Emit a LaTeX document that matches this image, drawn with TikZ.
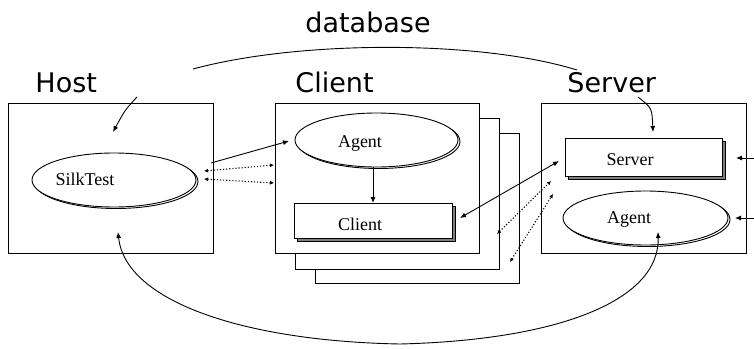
\documentclass[tikz,border=0pt]{standalone}
\usepackage{fontspec}
\setmainfont{Liberation Serif}
\newfontfamily\titlefont{DejaVu Sans}
\usetikzlibrary{arrows.meta,shadows,shapes.geometric}
\begin{document}
\begin{tikzpicture}[x=1pt,y=-1pt,line width=0.9pt,
  bigbox/.style={draw,fill=white,rectangle,inner sep=0pt,line width=1pt},
  inbox/.style={draw,fill=white,rectangle,inner sep=0pt,line width=1pt,
     general shadow={draw=black,fill=gray,line width=0.8pt,shadow xshift=3pt,shadow yshift=-3pt}},
  oval/.style={draw,fill=white,ellipse,inner sep=0pt,line width=0.9pt,
     copy shadow={shadow xshift=2pt,shadow yshift=-1.5pt}},
  titletext/.style={font=\titlefont\fontsize{27}{30}\selectfont,inner sep=0pt,anchor=base west},
  lbl/.style={font=\fontsize{18}{20}\selectfont,inner sep=0pt},
  tip/.style={-{Latex[length=6pt,width=5pt]}},
  tips/.style={{Latex[length=6pt,width=5pt]}-{Latex[length=6pt,width=5pt]}},
  dtips/.style={{Latex[length=4pt,width=4pt]}-{Latex[length=4pt,width=4pt]},dotted,line width=1.1pt}
]
\useasboundingbox (0,0) rectangle (754,348);

% titles
\node[titletext] (tdb) at (305,32) {database};
\node[titletext] (thost) at (35,92) {Host};
\node[titletext] (tclient) at (295,92) {Client};
\node[titletext] (tserver) at (567,92) {Server};

% boxes
\node[bigbox,minimum width=205pt,minimum height=150pt] (host) at (110.5,178) {};
\node[bigbox,minimum width=204pt,minimum height=150pt] (client3) at (417,208) {};
\node[bigbox,minimum width=204pt,minimum height=151pt] (client2) at (397,193.5) {};
\node[bigbox,minimum width=204pt,minimum height=150pt] (client1) at (377,178) {};
\node[bigbox,minimum width=205pt,minimum height=150pt] (server) at (643.5,178) {};

% inner elements
\node[oval,minimum width=164pt,minimum height=54pt] (silk) at (114,180) {};
\node[lbl] (silkl) at (85,179) {SilkTest};
\node[oval,minimum width=163pt,minimum height=54pt] (cagent) at (376.5,140) {};
\node[lbl] (cagentl) at (360,143) {Agent};
\node[inbox,minimum width=158pt,minimum height=35pt] (crect) at (373,220.5) {};
\node[lbl] (crectl) at (360,224) {Client};
\node[inbox,minimum width=157pt,minimum height=38pt] (srect) at (643.5,157) {};
\node[lbl] (srectl) at (630,160) {Server};
\node[oval,minimum width=165pt,minimum height=54pt] (sagent) at (645.5,218) {};
\node[lbl] (sagentl) at (629,219) {Agent};

% coordinates for connector ends
\coordinate (dbA) at (193,69);
\coordinate (dbB) at (577,70);
\coordinate (hA) at (137,97);
\coordinate (hB) at (113,132);
\coordinate (sA) at (638,97);
\coordinate (sB) at (653,132);
\coordinate (st1) at (211,163);
\coordinate (ca1) at (289,141);
\coordinate (st2) at (204,171);
\coordinate (cl2) at (274,165);
\coordinate (st3) at (204,179);
\coordinate (cl3) at (274,183);
\coordinate (caB) at (373,167);
\coordinate (crT) at (373,203);
\coordinate (crE) at (460,218);
\coordinate (srW) at (559,161);
\coordinate (c2a) at (497,234);
\coordinate (s2a) at (551,181);
\coordinate (c3a) at (510,262);
\coordinate (s3a) at (553,194);
\coordinate (rA) at (754,158);
\coordinate (rB) at (736,158);
\coordinate (rC) at (754,218);
\coordinate (rD) at (735,218);
\coordinate (hBot) at (118,232);
\coordinate (saBot) at (658,232);
\coordinate (mid) at (400,344);

% connectors
\draw (dbA) .. controls (300,40) and (480,40) .. (dbB);
\draw[tip] (hA) .. controls (125,110) .. (hB);
\draw[tip] (sA) .. controls (652,108) .. (sB);
\draw[tip] (st1) -- (ca1);
\draw[dtips] (st2) -- (cl2);
\draw[dtips] (st3) -- (cl3);
\draw[tip] (caB) -- (crT);
\draw[tips] (crE) -- (srW);
\draw[dtips] (c2a) -- (s2a);
\draw[dtips] (c3a) -- (s3a);
\draw[tip] (rA) -- (rB);
\draw[tip] (rC) -- (rD);
\draw[tips] (hBot) .. controls (125,300) and (240,341) .. (mid)
   .. controls (560,340) and (660,300) .. (saBot);
\end{tikzpicture}
\end{document}
